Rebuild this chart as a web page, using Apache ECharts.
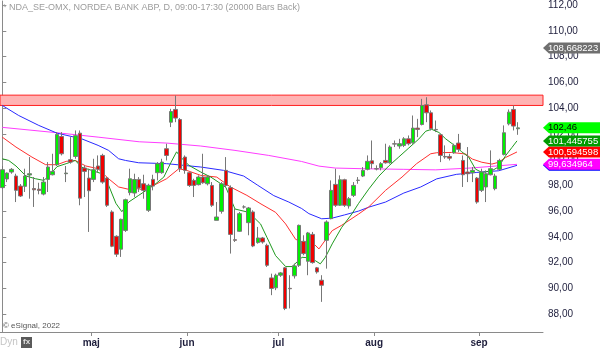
<!DOCTYPE html>
<html><head><meta charset="utf-8">
<script src="https://cdn.jsdelivr.net/npm/echarts@6/dist/echarts.min.js"></script>
<style>html,body{margin:0;padding:0;background:#fff}#c{width:600px;height:348px}</style>
</head><body><div id="c"></div>
<script>
const FONT = '"Liberation Sans", Arial, sans-serif';
const barCount = 119;
const categories = Array.from({length: barCount}, (_, i) => String(i));

const opens = [97.82,98.49,99.03,98.72,97.94,97.92,98.8,97.75,97.7,97.32,
98.46,98.82,99.6,101.79,98.9,99.99,100.24,102.05,99.34,98.56,
98.46,99.5,100.32,98.56,95.93,94.04,93.04,94.5,97.43,97.4,
98.46,98.12,96.06,98.46,98.98,98.98,100.84,102.9,103.89,103.11,
100.19,98.98,98.38,98.05,98.64,98.12,97.99,95.28,95.98,99.16,
97.82,93.78,94.43,96.32,95.1,95.93,93.55,93.91,93.34,90.81,
90.04,91.02,91.59,90.0,90.97,91.79,93.65,92.1,94.19,91.59,
90.63,93.73,95.41,98.07,96.45,98.43,96.4,97.22,98.38,98.72,
99.24,99.9,99.29,99.37,99.93,99.75,101.23,101.05,101.1,101.61,
101.3,102.44,102.72,104.25,103.63,102.34,101.92,100.24,100.24,100.53,
101.28,99.93,99.03,98.98,98.56,97.61,97.87,98.82,97.74,99.24,
100.4,102.77,103.89,102.39];
const closes = [99.21,98.95,99.24,97.61,97.17,98.72,98.9,97.65,97.6,98.25,
99.42,99.08,101.95,100.45,98.95,99.8,101.85,97.0,99.08,97.58,
99.21,99.24,98.25,96.45,93.27,92.65,95.36,96.88,98.51,98.45,
97.79,97.61,98.0,97.94,99.68,99.8,100.32,103.73,103.22,99.29,
99.16,97.99,97.99,98.64,98.2,98.64,96.45,95.54,98.12,97.99,
94.19,93.73,95.8,96.32,96.24,93.29,93.91,93.6,91.79,89.99,
91.02,91.2,88.44,89.97,91.74,94.89,92.7,94.3,92.0,91.27,
90.24,95.15,97.61,96.45,98.43,96.45,96.96,97.99,98.4,99.16,
99.86,99.68,99.27,99.68,99.75,100.97,101.2,101.23,101.61,101.23,
102.44,102.34,104.2,103.63,102.39,102.31,100.32,100.2,100.11,101.1,
100.79,98.82,98.9,99.16,96.7,99.03,98.9,99.29,98.72,99.93,
102.08,103.68,102.6,102.46];
const lows = [97.74,98.25,98.9,96.7,97.09,97.48,96.96,96.32,97.3,97.22,
97.48,98.77,99.5,100.32,98.25,99.68,100.06,96.45,97.09,94.38,
98.25,99.03,98.12,96.32,93.2,92.44,92.44,94.38,97.22,97.1,
97.48,96.96,95.93,97.61,98.38,98.9,99.93,102.52,102.9,99.03,
98.9,97.87,97.09,97.99,98.12,97.99,96.32,95.28,95.8,97.87,
92.7,93.6,94.38,96.19,94.12,93.2,93.47,93.47,91.66,89.47,
89.86,90.89,88.31,88.44,90.76,91.66,92.57,91.02,91.92,91.14,
88.95,91.53,95.36,96.32,96.4,96.32,96.19,97.09,98.12,98.64,
99.16,99.29,99.16,99.16,99.68,99.68,100.97,100.84,100.97,101.1,
101.23,101.74,102.65,102.9,102.26,102.13,99.8,100.06,99.93,100.45,
100.58,97.87,98.25,98.25,96.57,97.48,96.7,98.77,97.61,99.16,
100.32,102.65,102.26,101.92];
const highs = [99.5,99.0,99.34,98.9,98.1,99.29,100.19,98.64,98.2,98.64,
99.8,100.45,102.13,102.13,99.5,101.74,102.26,102.26,99.55,99.29,
100.06,100.32,100.45,98.64,96.06,94.12,95.41,96.96,99.29,98.9,
98.64,98.82,98.12,98.82,99.8,100.06,101.23,103.94,104.97,103.22,
100.32,99.03,98.51,98.77,100.45,98.77,98.25,96.7,98.25,100.19,
97.99,96.19,95.93,96.45,96.32,96.06,94.77,93.99,93.47,91.14,
91.14,91.27,91.66,91.02,91.92,94.95,94.12,94.38,94.38,91.66,
91.02,95.28,98.38,99.29,98.77,98.51,97.09,98.25,98.64,99.42,
100.32,101.48,99.55,99.8,101.23,101.1,101.48,101.61,101.74,101.87,
103.42,103.16,104.71,104.84,103.81,103.03,102.0,101.1,100.45,101.23,
101.99,100.32,100.97,99.42,98.64,99.29,99.16,100.71,98.9,100.06,
102.65,103.89,104.2,102.9];

// moving-average lines: [bar position, value]
const maGreen = [[0,100.06],[1.4,99.93],[3,99.5],[5.2,98.72],[7.3,98.51],[9.1,98.38],[10.2,98.72],[12,99.45],[14,99.68],[16,99.93],[17.4,99.4],[19.6,99.16],[21.8,98.9],[23.3,98.0],[24.9,96.6],[26.2,95.95],[27.7,96.7],[29.9,97.22],[31,97.48],[33.2,98.0],[35.4,98.64],[37,99.8],[38.2,100.6],[39.1,100.19],[40.9,99.55],[43.5,99.03],[45.7,98.64],[47.9,98.12],[49,97.84],[51,96.16],[54,95.9],[56.6,95.0],[58,93.96],[59.9,92.54],[62.1,91.69],[63.5,91.69],[65.7,92.41],[67.5,92.36],[68.6,92.15],[69.7,91.9],[70.8,92.41],[72.3,93.45],[74.4,94.74],[76.6,95.77],[78.1,96.6],[80.3,97.7],[82.5,98.7],[84.7,99.5],[86.9,100.2],[89.1,100.9],[91.3,101.6],[92.8,102.2],[94.1,102.35],[95.7,102.1],[97.2,101.6],[98.9,101.15],[100.7,100.6],[102.2,100.2],[103.7,99.26],[105.1,99.0],[107.3,99.13],[108.8,99.44],[110.3,100.3],[111.7,100.94],[112.8,101.45]];
const maRed = [[0,101.74],[3,100.97],[6.5,100.19],[9.5,99.6],[12,99.6],[14,99.86],[16,99.93],[18.3,99.5],[21,99.29],[23.3,98.51],[25.5,97.87],[27.7,97.69],[29.9,97.74],[31,97.61],[33.2,98.0],[36,98.51],[38.7,99.29],[40.4,99.16],[43.5,98.77],[47,98.64],[50,97.87],[53.6,97.22],[56.7,96.55],[59.9,95.9],[62.1,95.0],[64.3,93.8],[66.5,93.5],[68,93.55],[69.4,93.06],[72.3,94.48],[74.4,94.9],[78.1,95.77],[80.3,96.32],[84,97.61],[87.6,98.64],[90.8,99.68],[93.9,100.45],[95.2,100.53],[98.5,100.55],[101.5,100.43],[103,100.04],[105.1,99.79],[107.3,99.65],[108.8,99.79],[110.3,100.16],[112.8,100.59]];
const maBlue = [[0,104.2],[3.6,103.42],[8,102.65],[12,102.05],[17.4,101.61],[21,101.1],[23.3,100.71],[25.5,100.06],[27,99.93],[29.9,99.75],[36,99.68],[43.5,99.42],[48.5,99.16],[52.9,98.72],[56,98.0],[59.5,97.2],[62.8,96.7],[65.6,96.2],[67.2,95.8],[70,95.4],[72.3,95.45],[75,95.7],[78.1,96.0],[80.3,96.3],[84,96.7],[88,97.4],[91.7,97.87],[95.2,98.5],[99.5,98.85],[104,99.0],[108.8,99.13],[112.8,99.55]];
const maMagenta = [[0,102.5],[12,102.08],[21,101.74],[30,101.38],[36,101.28],[43.5,101.05],[51,100.71],[58.4,100.32],[65.6,99.85],[69.4,99.49],[73,99.34],[78.8,99.29],[88,99.24],[95,99.2],[103,99.35],[112.8,99.63]];

const yTicks = [88,90,92,94,96,98,100,102,104,106,108,110,112];
const monthPos = [19.5,40.5,60.5,81.5,104.5];
const monthLabels = ['maj','jun','jul','aug','sep'];
const resistance = [104.2, 105.0];
const tags = [
  {v: 108.668223, bg: '#6f6f6f', fg: '#ffffff'},
  {v: 99.55, bg: '#0000ff', fg: '#ffffff'},
  {v: 99.634964, bg: '#ff00ff', fg: '#ffffff'},
  {v: 100.594598, bg: '#ff0000', fg: '#ffffff'},
  {v: 101.445755, bg: '#009a00', fg: '#ffffff'},
  {v: 102.46, bg: '#00ff00', fg: '#000000', label: '102,46'}
];

const fmt = v => v.toFixed(2).replace('.', ',');
const chart = echarts.init(document.getElementById('c'), null, {renderer: 'canvas'});
const lineSeries = (name, data, color, extra) => Object.assign({
  name, type: 'line', xAxisIndex: 1, yAxisIndex: 0, data, showSymbol: false, symbol: 'none',
  lineStyle: {color, width: 1}, z: 3, silent: true
}, extra || {});

chart.setOption({
  animation: false,
  backgroundColor: '#ffffff',
  grid: {left: 0, right: 57, top: 0, bottom: 16, containLabel: false},
  xAxis: [
    {type: 'category', data: categories, boundaryGap: true, position: 'bottom',
     axisLine: {show: true, lineStyle: {color: '#8a8a8a', width: 1}},
     axisTick: {show: false}, axisLabel: {show: false}, splitLine: {show: false}},
    {type: 'value', min: -0.5, max: barCount - 0.5, position: 'bottom', offset: 0,
     axisLine: {show: false},
     axisTick: {show: true, customValues: monthPos, length: 4, lineStyle: {color: '#8a8a8a'}},
     axisLabel: {show: true, customValues: monthPos, margin: 6, fontSize: 10, fontWeight: 'bold',
       fontFamily: FONT, color: '#1e1e3c',
       formatter: v => { const k = monthPos.indexOf(v); return k >= 0 ? monthLabels[k] : ''; }},
     splitLine: {show: false}}
  ],
  yAxis: {type: 'value', position: 'right', min: 86.61, max: 112.31,
    axisLine: {show: true, lineStyle: {color: '#8a8a8a', width: 1}},
    axisTick: {show: true, customValues: yTicks, length: 4, lineStyle: {color: '#8a8a8a'}},
    axisLabel: {customValues: yTicks, formatter: fmt, margin: 5, fontSize: 10, fontFamily: FONT, color: '#1e1e3c'},
    splitLine: {show: false}},
  series: [
    lineSeries('ma200', maMagenta, '#ff3cff', {
      markArea: {silent: true, itemStyle: {color: '#ffb3b3', borderColor: '#ff2020', borderWidth: 1},
        data: [[{yAxis: resistance[0]}, {yAxis: resistance[1]}]]}
    }),
    lineSeries('ma50', maBlue, '#2a2aff'),
    lineSeries('ma20', maRed, '#ff3030'),
    lineSeries('ma10', maGreen, '#1f9a1f'),
    {name: 'price', type: 'candlestick', xAxisIndex: 0, yAxisIndex: 0, z: 5, barWidth: 4,
     data: opens.map((o, i) => [o, closes[i], lows[i], highs[i]]),
     itemStyle: {color: '#00f000', color0: '#f00000', borderColor: '#777777', borderColor0: '#777777',
       borderColorDoji: '#777777', borderWidth: 1}}
  ]
});

const g = [];
g.push({type: 'text', left: 3, top: 3, z: 100, style: {text: '* NDA_SE-OMX, NORDEA BANK ABP, D, 09:00-17:30 (20000 Bars Back)', fill: '#9c9c9c', font: '9px ' + FONT}});
g.push({type: 'text', left: 3, top: 322, z: 100, style: {text: '© eSignal, 2022', fill: '#555555', font: '8px ' + FONT}});
g.push({type: 'text', left: 0, top: 337, z: 100, style: {text: 'Dyn', fill: '#c4c4c4', font: '10px ' + FONT}});
g.push({type: 'rect', shape: {x: 21, y: 337, width: 11, height: 11}, z: 100, style: {fill: '#5a5a5a'}});
g.push({type: 'text', x: 23, y: 338, z: 101, style: {text: 'fx', fill: '#e0e0e0', font: 'bold 8px ' + FONT}});
tags.forEach((t, k) => {
  const y = chart.convertToPixel({yAxisIndex: 0}, t.v);
  const x0 = 543, h = 5.5;
  g.push({type: 'polygon', z: 110 + k * 2, shape: {points: [[x0, y], [x0 + 6, y - h], [600, y - h], [600, y + h], [x0 + 6, y + h]]},
    style: {fill: t.bg}});
  g.push({type: 'text', z: 111 + k * 2, x: x0 + 5, y: y, style: {text: t.label || t.v.toFixed(6).replace('.', ','),
    fill: t.fg, font: '9.5px ' + FONT, verticalAlign: 'middle', textAlign: 'left'}});
});
chart.setOption({graphic: g});
</script></body></html>
